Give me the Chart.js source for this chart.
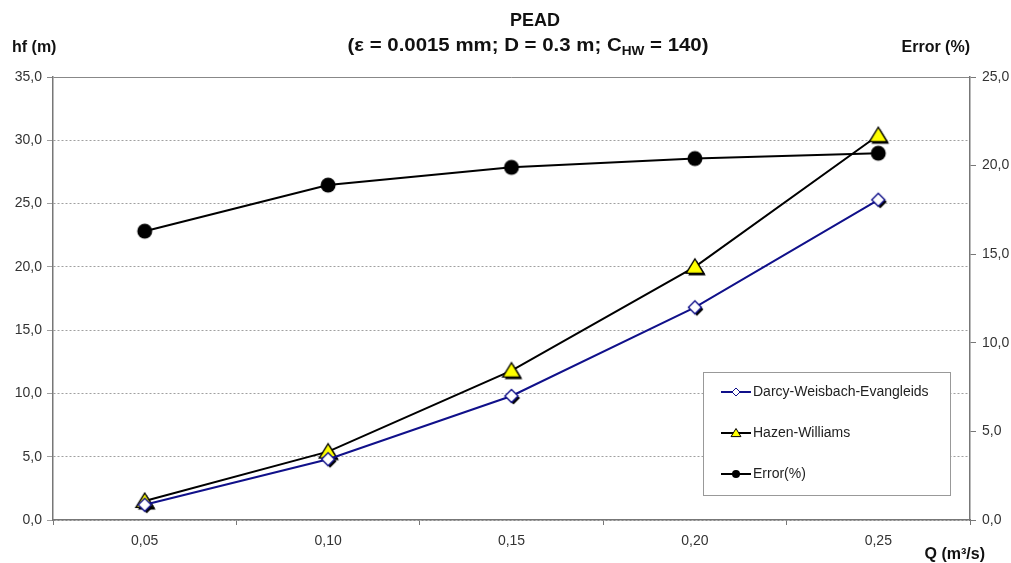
<!DOCTYPE html>
<html>
<head>
<meta charset="utf-8">
<script src="https://cdn.jsdelivr.net/npm/chart.js@4"></script>
<style>
  html, body { margin: 0; padding: 0; background: #fff; }
  #wrap { width: 1011px; height: 563px; }
</style>
</head>
<body>
<div id="wrap"><canvas id="myChart" width="1011" height="563"></canvas></div>
<script>
const ctx = document.getElementById("myChart");

var qLabels = ["0,05", "0,10", "0,15", "0,20", "0,25"];
var darcyData = [1.2, 4.8, 9.8, 16.8, 25.3];
var hazenData = [1.5, 5.4, 11.8, 20.0, 30.4];
var errorData = [16.3, 18.9, 19.9, 20.4, 20.7];
var hfTicks = [0, 35, 5];
var errTicks = [0, 25, 5];

const FONT = "'Liberation Sans', Arial, sans-serif";
const BLUE = "#10108a";

// marker images with the little black drop shadow
function diamond(c, cx, cy, r) {
  c.beginPath();
  c.moveTo(cx, cy - r);
  c.lineTo(cx + r, cy);
  c.lineTo(cx, cy + r);
  c.lineTo(cx - r, cy);
  c.closePath();
}
function triangle(c, cx, cy, r) {
  c.beginPath();
  c.moveTo(cx, cy - r);
  c.lineTo(cx + r * 1.1, cy + r * 0.8);
  c.lineTo(cx - r * 1.1, cy + r * 0.8);
  c.closePath();
}
function makeMarker(kind, r, shadow) {
  const cv = document.createElement("canvas");
  cv.width = 26;
  cv.height = 26;
  const c = cv.getContext("2d");
  const m = 13;
  if (kind === "circle") {
    c.fillStyle = "#000";
    c.beginPath();
    c.arc(m, m, r, 0, Math.PI * 2);
    c.fill();
    return cv;
  }
  const shape = kind === "diamond" ? diamond : triangle;
  if (shadow) {
    c.fillStyle = "#000";
    shape(c, m + 2, m + 2, r);
    c.fill();
  }
  shape(c, m, m, r);
  c.fillStyle = kind === "diamond" ? "#fff" : "#ffff00";
  c.fill();
  c.lineWidth = 1.4;
  c.strokeStyle = kind === "diamond" ? BLUE : "#000";
  c.stroke();
  return cv;
}

const titles = {
  id: "titles",
  afterDraw(chart) {
    const c = chart.ctx;
    c.save();
    c.fillStyle = "#111";
    c.textBaseline = "middle";
    c.font = "bold 18px " + FONT;
    c.textAlign = "center";
    c.fillText("PEAD", 535, 21);
    // subtitle with subscript, stretched to the reference width
    const a = "(\u03b5 = 0.0015 mm; D = 0.3 m; C";
    const b = " = 140)";
    c.font = "bold 18px " + FONT;
    const wa = c.measureText(a).width;
    const wb = c.measureText(b).width;
    c.font = "bold 12px " + FONT;
    const ws = c.measureText("HW").width;
    const total = wa + ws + wb;
    const sx = 361 / total;
    c.save();
    c.translate(528 - 361 / 2, 0);
    c.scale(sx, 1);
    c.textAlign = "left";
    c.font = "bold 18px " + FONT;
    c.fillText(a, 0, 46);
    c.font = "bold 12px " + FONT;
    c.fillText("HW", wa, 52);
    c.font = "bold 18px " + FONT;
    c.fillText(b, wa + ws, 46);
    c.restore();
    c.textAlign = "left";
    c.font = "bold 16px " + FONT;
    c.fillText("hf (m)", 12, 48);
    c.textAlign = "right";
    c.fillText("Error (%)", 970, 48);
    c.fillText("Q (m\u00b3/s)", 985, 555);
    c.restore();
  },
};

const legendBox = {
  id: "legendBox",
  afterDraw(chart) {
    const c = chart.ctx;
    c.save();
    c.fillStyle = "#fff";
    c.fillRect(703, 372, 247, 123);
    c.strokeStyle = "#999";
    c.lineWidth = 1;
    c.strokeRect(703.5, 372.5, 247, 123);
    const items = [
      { text: "Darcy-Weisbach-Evangleids", color: BLUE, kind: "diamond" },
      { text: "Hazen-Williams", color: "#000", kind: "triangle" },
      { text: "Error(%)", color: "#000", kind: "circle" },
    ];
    items.forEach((it, i) => {
      const y = 392 + i * 41;
      c.strokeStyle = it.color;
      c.lineWidth = 2;
      c.beginPath();
      c.moveTo(721, y);
      c.lineTo(751, y);
      c.stroke();
      if (it.kind === "diamond") {
        diamond(c, 736, y, 4);
        c.fillStyle = "#fff";
        c.fill();
        c.lineWidth = 1;
        c.stroke();
      } else if (it.kind === "triangle") {
        triangle(c, 736, y, 4.5);
        c.fillStyle = "#ffff00";
        c.fill();
        c.lineWidth = 1;
        c.strokeStyle = "#000";
        c.stroke();
      } else {
        c.fillStyle = "#000";
        c.beginPath();
        c.arc(736, y, 4, 0, Math.PI * 2);
        c.fill();
      }
      c.fillStyle = "#222";
      c.font = "14px " + FONT;
      c.textAlign = "left";
      c.textBaseline = "middle";
      c.fillText(it.text, 753, y);
    });
    c.restore();
  },
};

const fmt = (v) => v.toFixed(1).replace(".", ",");

new Chart(ctx, {
  type: "line",
  data: {
    labels: qLabels,
    datasets: [
      {
        label: "Darcy-Weisbach-Evangleids",
        data: darcyData,
        borderColor: BLUE,
        borderWidth: 2,
        pointStyle: makeMarker("diamond", 6.5, true),
        yAxisID: "y",
      },
      {
        label: "Hazen-Williams",
        data: hazenData,
        borderColor: "#000",
        borderWidth: 2,
        pointStyle: makeMarker("triangle", 8, true),
        yAxisID: "y",
      },
      {
        label: "Error(%)",
        data: errorData,
        borderColor: "#000",
        borderWidth: 2,
        pointStyle: makeMarker("circle", 7.5, false),
        yAxisID: "y2",
      },
    ],
  },
  options: {
    responsive: false,
    animation: false,
    events: [],
    layout: { padding: { top: 77, left: 0, right: 0, bottom: 0 } },
    plugins: {
      legend: { display: false },
      tooltip: { enabled: false },
      title: { display: false },
    },
    scales: {
      x: {
        offset: true,
        grid: {
          offset: true,
          drawOnChartArea: false,
          tickLength: 5,
          color: "#777",
        },
        border: { color: "#777", width: 1.5 },
        ticks: {
          color: "#333",
          font: { family: FONT, size: 14 },
          padding: 8,
        },
        afterFit(scale) {
          scale.height = 43;
        },
      },
      y: {
        position: "left",
        min: hfTicks[0],
        max: hfTicks[1],
        ticks: {
          stepSize: hfTicks[2],
          color: "#333",
          font: { family: FONT, size: 14 },
          padding: 5,
          callback: (v) => fmt(v),
        },
        grid: {
          color: (c) => (c.tick && c.tick.value === 35 ? "#888" : "#a0a0a0"),
          lineWidth: 1,
          tickLength: 6,
        },
        border: {
          color: "#777",
          width: 1.5,
          dash: (c) => (c.tick && c.tick.value === 35 ? [] : [2, 2]),
        },
        afterFit(scale) {
          scale.width = 53;
        },
      },
      y2: {
        position: "right",
        min: errTicks[0],
        max: errTicks[1],
        ticks: {
          stepSize: errTicks[2],
          color: "#333",
          font: { family: FONT, size: 14 },
          padding: 6,
          callback: (v) => fmt(v),
        },
        grid: { drawOnChartArea: false, tickLength: 6, color: "#777" },
        border: { color: "#777", width: 1.5 },
        afterFit(scale) {
          scale.width = 41;
        },
      },
    },
  },
  plugins: [titles, legendBox],
});
</script>
</body>
</html>
